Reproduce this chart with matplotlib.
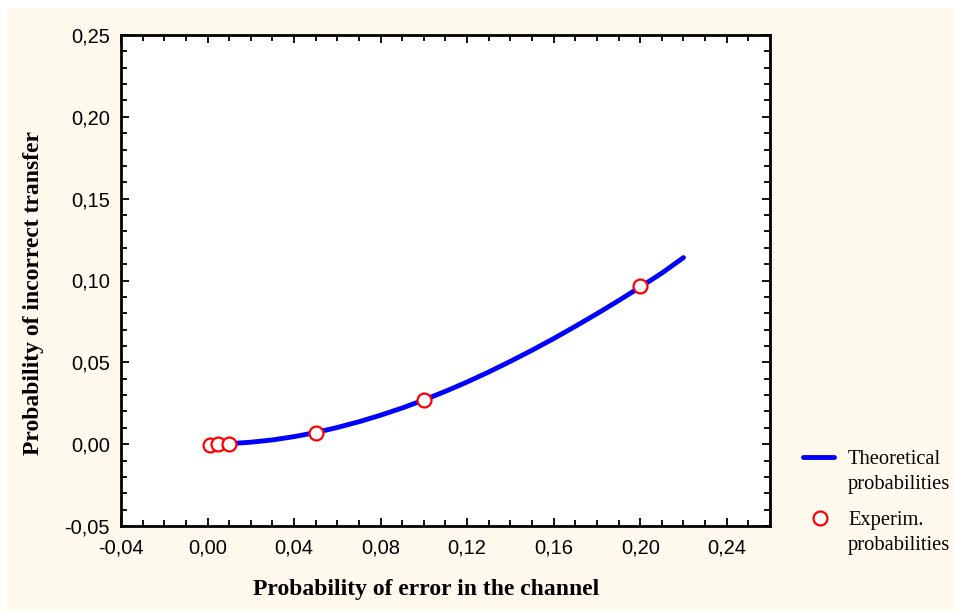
import matplotlib
matplotlib.use("Agg")
import matplotlib.pyplot as plt
from matplotlib.ticker import MultipleLocator, FuncFormatter
from matplotlib.lines import Line2D
from matplotlib.patches import Rectangle

# Theoretical curve
theo_x = [0.01, 0.02, 0.03, 0.04, 0.05, 0.06, 0.07, 0.08, 0.09, 0.10, 0.11,
          0.12, 0.13, 0.14, 0.15, 0.16, 0.17, 0.18, 0.19, 0.20, 0.21, 0.22]
theo_y = [0.0003, 0.0012, 0.0026, 0.0046, 0.0071, 0.0102, 0.0137, 0.0177,
          0.0221, 0.0270, 0.0323, 0.0380, 0.0441, 0.0506, 0.0574, 0.0645,
          0.0720, 0.0797, 0.0877, 0.0960, 0.1045, 0.1140]

# Experimental points
exp_x = [0.001, 0.005, 0.01, 0.05, 0.10, 0.20]
exp_y = [-0.0008, 0.0, 0.0003, 0.0068, 0.0270, 0.0965]

x_label = "Probability of error in the channel"
y_label = "Probability of incorrect transfer"
legend_labels = ["Theoretical\nprobabilities", "Experim.\nprobabilities"]

W, H = 954, 611
fig = plt.figure(figsize=(W / 100, H / 100), dpi=100)
fig.patch.set_facecolor("white")
fig.add_artist(Rectangle((7 / W, 0 / H), 1 - 7 / W, 1 - 8 / H, transform=fig.transFigure,
                         facecolor="#FFF9EE", edgecolor="none", zorder=-10))

ax = fig.add_axes([121 / W, 1 - 526 / H, (770 - 121) / W, (526 - 35) / H])
ax.set_facecolor("white")

ax.plot(theo_x, theo_y, color="#0000FF", lw=3.5, solid_capstyle="round", zorder=2)
ax.plot(exp_x, exp_y, linestyle="none", marker="o", ms=10, mfc="white",
        mec="#FF0000", mew=1.6, zorder=3)

ax.set_xlim(-0.04, 0.26)
ax.set_ylim(-0.05, 0.25)
ax.xaxis.set_major_locator(MultipleLocator(0.04))
ax.xaxis.set_minor_locator(MultipleLocator(0.01))
ax.yaxis.set_major_locator(MultipleLocator(0.05))
ax.yaxis.set_minor_locator(MultipleLocator(0.01))
fmt = FuncFormatter(lambda v, p: f"{v:.2f}".replace(".", ",").replace("-0,00", "0,00"))
ax.xaxis.set_major_formatter(fmt)
ax.yaxis.set_major_formatter(fmt)

ax.tick_params(which="both", direction="in", top=True, right=True, color="black",
               width=1.3)
ax.tick_params(which="major", length=6, labelsize=14.5)
ax.tick_params(axis="x", which="major", pad=9)
ax.tick_params(axis="y", which="major", pad=8)
ax.tick_params(which="minor", length=4)
for lab in ax.get_xticklabels() + ax.get_yticklabels():
    lab.set_fontfamily("Liberation Sans")
for s in ax.spines.values():
    s.set_linewidth(2)
    s.set_color("black")

fig.text(426 / W, 1 - 589 / H, x_label, ha="center", va="center",
         fontfamily="Liberation Serif", fontweight="bold", fontsize=17)
fig.text(34 / W, 1 - 293 / H, y_label, ha="center", va="center", rotation=90,
         fontfamily="Liberation Serif", fontweight="bold", fontsize=17)

# legend
fig.add_artist(Line2D([803 / W, 834 / W], [1 - 457 / H, 1 - 457 / H], transform=fig.transFigure,
                      color="#0000FF", lw=3.5, solid_capstyle="round"))
fig.add_artist(Line2D([820 / W], [1 - 518 / H], transform=fig.transFigure, marker="o",
                      ms=10, mfc="white", mec="#FF0000", mew=1.6, linestyle="none"))
for label, y0 in zip(legend_labels, [457, 518]):
    for i, line in enumerate(label.split("\n")):
        fig.text(848 / W, 1 - (y0 + 25 * i) / H, line, ha="left", va="center_baseline",
                 fontfamily="Liberation Serif", fontsize=14.8)

fig.savefig("out.png", dpi=100, facecolor=fig.get_facecolor())
